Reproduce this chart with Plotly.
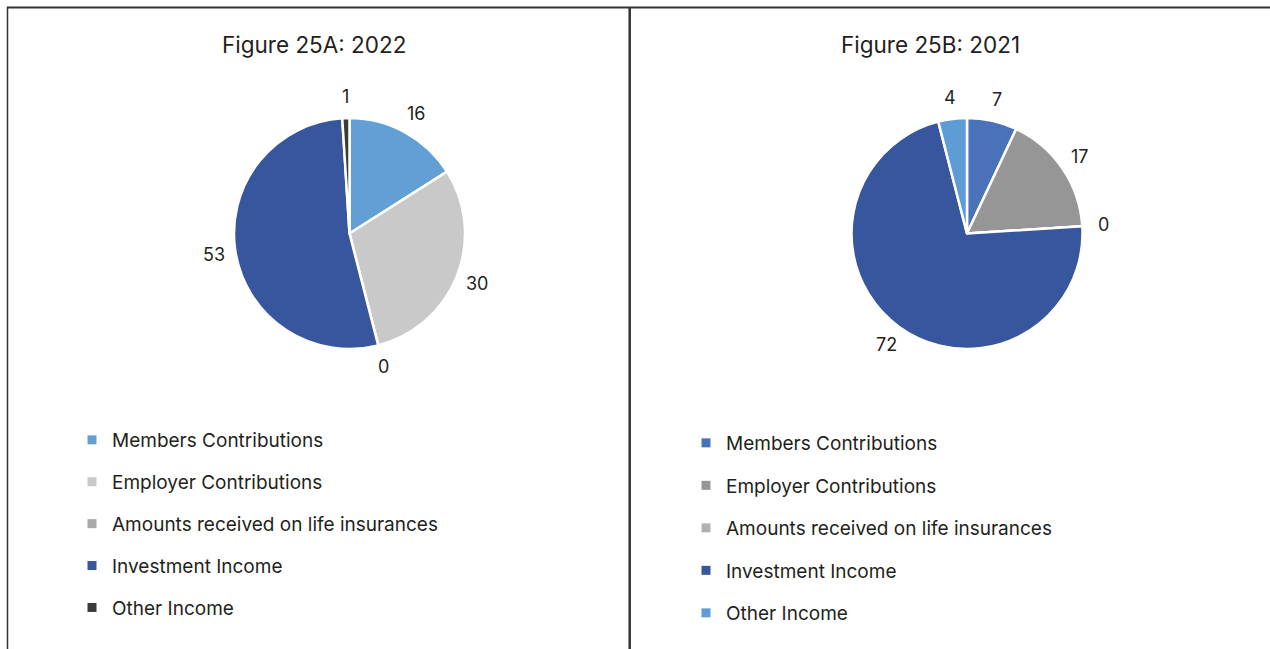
import math
import plotly.graph_objects as go

# Income categories shared by both years
categories = [
    "Members Contributions",
    "Employer Contributions",
    "Amounts received on life insurances",
    "Investment Income",
    "Other Income",
]

# Percentage shares by year
values_2022 = [16, 30, 0, 53, 1]
values_2021 = [7, 17, 0, 72, 4]

colors_2022 = ["#629FD5", "#C9C9C9", "#A9A9A9", "#38569E", "#3A3A3A"]
colors_2021 = ["#4A72B8", "#969696", "#B2B2B2", "#38569E", "#5E9CD6"]

titles = ["Figure 25A: 2022", "Figure 25B: 2021"]

W, H = 1270, 649
FONT = "Inter"
TEXT = "#231F20"


def px_x(x):
    return x / W


def px_y(y):
    return 1 - y / H


fig = go.Figure()

panels = [
    dict(values=values_2022, colors=colors_2022, cx=349.5, legend="legend"),
    dict(values=values_2021, colors=colors_2021, cx=967.0, legend="legend2"),
]
R = 115.5          # pie radius in px
CY = 233.5         # pie centre row in px
LABEL_DIST = 137   # distance of value labels from the pie centre in px

annotations = []
for p in panels:
    fig.add_trace(go.Pie(
        labels=categories,
        values=p["values"],
        marker=dict(colors=p["colors"], line=dict(color="white", width=2.5)),
        sort=False,
        direction="clockwise",
        rotation=0,
        textinfo="none",
        showlegend=False,
        hoverinfo="label+value",
        domain=dict(x=[px_x(p["cx"] - R), px_x(p["cx"] + R)],
                    y=[px_y(CY + R), px_y(CY - R)]),
    ))

    # value labels outside each slice, at the slice's mid-angle
    total = sum(p["values"])
    cum = 0.0
    for v in p["values"]:
        mid = (cum + v / 2) / total * 2 * math.pi
        cum += v
        lx = p["cx"] + LABEL_DIST * math.sin(mid)
        ly = CY - LABEL_DIST * math.cos(mid)
        annotations.append(dict(
            text=str(v), x=px_x(lx), y=px_y(ly), xref="paper", yref="paper",
            showarrow=False, xanchor="center", yanchor="middle",
            font=dict(family=FONT, size=18, color=TEXT),
        ))

    # legend entries, one group each so the rows are spaced apart
    for name, col in zip(categories, p["colors"]):
        fig.add_trace(go.Scatter(
            x=[None], y=[None], mode="markers", name=name,
            marker=dict(symbol="square", size=9, color=col),
            legendgroup=p["legend"] + name, legend=p["legend"],
            showlegend=True, hoverinfo="skip",
        ))

legend_common = dict(
    font=dict(family=FONT, size=19, color=TEXT),
    traceorder="grouped",
    xanchor="left", yanchor="top",
    bgcolor="rgba(0,0,0,0)", itemclick=False, itemdoubleclick=False,
)

for title, tx in zip(titles, [314, 930]):
    annotations.append(dict(
        text=title, x=px_x(tx), y=px_y(45), xref="paper", yref="paper",
        showarrow=False, xanchor="center", yanchor="middle",
        font=dict(family=FONT, size=22.5, color=TEXT),
    ))

fig.update_layout(
    width=W, height=H,
    margin=dict(l=0, r=0, t=0, b=0),
    paper_bgcolor="white", plot_bgcolor="white",
    xaxis=dict(visible=False), yaxis=dict(visible=False),
    legend=dict(x=px_x(72), y=px_y(421), tracegroupgap=14.2, **legend_common),
    legend2=dict(x=px_x(686), y=px_y(424), tracegroupgap=14.8, **legend_common),
    annotations=annotations,
    shapes=[
        dict(type="line", xref="paper", yref="paper", x0=px_x(7), x1=1,
             y0=px_y(7.5), y1=px_y(7.5), line=dict(color="#333333", width=2)),
        dict(type="line", xref="paper", yref="paper", x0=px_x(7.5), x1=px_x(7.5),
             y0=px_y(7), y1=0, line=dict(color="#333333", width=1.5)),
        dict(type="line", xref="paper", yref="paper", x0=px_x(629.7), x1=px_x(629.7),
             y0=px_y(7), y1=0, line=dict(color="#333333", width=2.5)),
    ],
)

fig.write_html("out.html")
